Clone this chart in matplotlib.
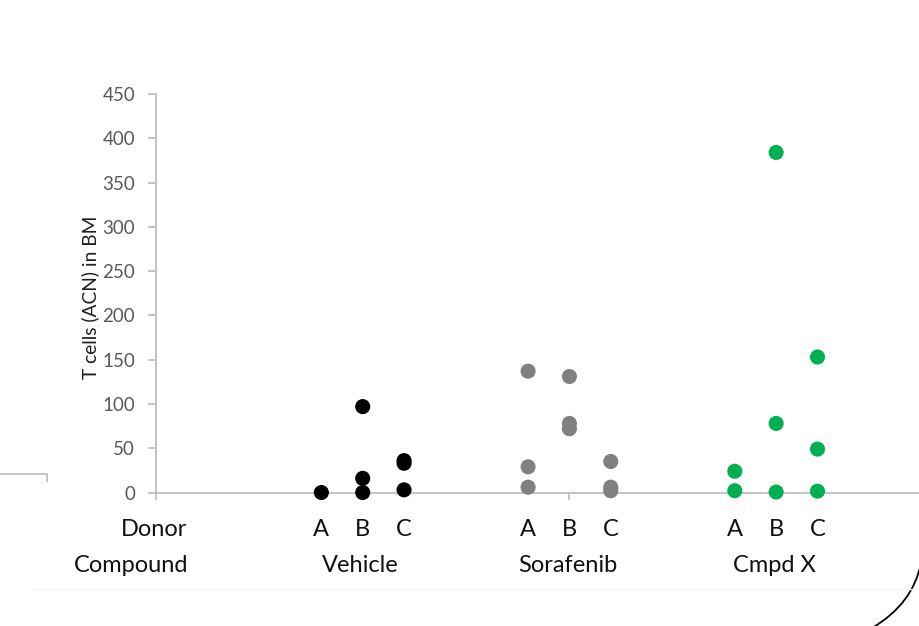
import matplotlib
matplotlib.use("Agg")
import matplotlib.pyplot as plt
from matplotlib.path import Path
from matplotlib.patches import PathPatch

plt.rcParams['font.family'] = ['Lato', 'DejaVu Sans']

# Groups, donors and measured T-cell counts (ACN in bone marrow)
compounds = ["Vehicle", "Sorafenib", "Cmpd X"]
donors = ["A", "B", "C"]
colors = ["#000000", "#808080", "#00b050"]

vehicle_a = [0]
vehicle_b = [97, 16, 0]
vehicle_c = [36, 33, 3]
sorafenib_a = [137, 29, 6]
sorafenib_b = [131, 78, 72]
sorafenib_c = [35, 6, 2]
cmpdx_a = [24, 2]
cmpdx_b = [384, 78, 0.5]
cmpdx_c = [153, 49, 1.5]

values = [
    [vehicle_a, vehicle_b, vehicle_c],
    [sorafenib_a, sorafenib_b, sorafenib_c],
    [cmpdx_a, cmpdx_b, cmpdx_c],
]

# category slot of each donor column on the x axis
group_start = [4, 9, 14]

W, H = 920, 626
fig = plt.figure(figsize=(W / 100, H / 100), dpi=100)

ax = fig.add_axes([156 / W, (H - 492.5) / H, (W - 156) / W, 398.5 / H])
for g, comp in enumerate(compounds):
    for d, donor in enumerate(donors):
        ys = values[g][d]
        ax.scatter([group_start[g] + d] * len(ys), ys, s=118, color=colors[g],
                   edgecolors="none", zorder=3, clip_on=False)

ax.set_yticks(range(0, 451, 50))
ax.set_xticks([0, 10, 20])
ax.set_xticklabels([])
ax.set_xlim(0, 18.48)
ax.set_ylim(0, 450)
for side in ("top", "right"):
    ax.spines[side].set_visible(False)
for side in ("left", "bottom"):
    ax.spines[side].set_color("#bfbfbf")
    ax.spines[side].set_linewidth(1.3)
ax.tick_params(axis="y", length=6, width=1.3, color="#bfbfbf",
               labelsize=13.5, labelcolor="#595959", pad=9)
ax.tick_params(axis="x", length=5, width=1.3, color="#bfbfbf")
ax.set_ylabel("T cells (ACN) in BM", fontsize=13.8, color="#1f1f1f")
ax.yaxis.set_label_coords(-0.075, 0.489)
ax.patch.set_alpha(0)

# two-level category labels below the axis
row_donor = -37
row_comp = -73
lab_kw = dict(fontsize=17, color="#111111", ha="center", va="center")
for g, comp in enumerate(compounds):
    for d, donor in enumerate(donors):
        ax.annotate(donor, (group_start[g] + d, 0), xytext=(0, row_donor),
                    textcoords="offset pixels", annotation_clip=False, **lab_kw)
    ax.annotate(comp, (group_start[g] + 1, 0), xytext=(-2, row_comp),
                textcoords="offset pixels", annotation_clip=False, **lab_kw)
right_kw = dict(lab_kw, ha="right")
ax.annotate("Donor", (0, 0), xytext=(31, row_donor), textcoords="offset pixels",
            annotation_clip=False, **right_kw)
ax.annotate("Compound", (0, 0), xytext=(32, row_comp), textcoords="offset pixels",
            annotation_clip=False, **right_kw)

# slide decorations around the chart
deco = fig.add_axes([0, 0, 1, 1], zorder=-1)
deco.set_xlim(0, W)
deco.set_ylim(H, 0)
deco.axis("off")
deco.plot([0, 47, 47], [474, 474, 481], color="#bfbfbf", lw=1.3)
deco.plot([33, W], [589, 589], color="#f4f4f4", lw=1)
arc = Path([(921, 563), (913, 604), (872, 628)],
           [Path.MOVETO, Path.CURVE3, Path.CURVE3])
deco.add_patch(PathPatch(arc, facecolor="none", edgecolor="black", lw=1.3))

fig.savefig("out.png", dpi=100)
